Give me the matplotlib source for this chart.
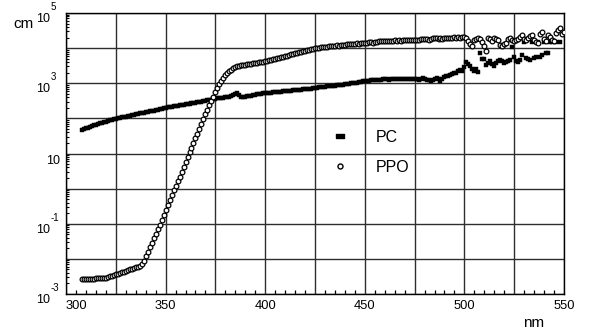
import numpy as np
import matplotlib
matplotlib.use("Agg")
import matplotlib.pyplot as plt
from matplotlib.lines import Line2D
from matplotlib.ticker import FixedLocator, LogLocator, NullFormatter

plt.rcParams['font.family'] = ['Liberation Sans', 'DejaVu Sans']

# ---------------- data ----------------
wavelength_nm = np.arange(308, 551)  # 1 nm sampling, 308 .. 550 nm

# log10 of attenuation length (cm) for PC (filled squares)
pc_log10 = [
    1.68, 1.70, 1.72, 1.74, 1.76, 1.78, 1.80, 1.82, 1.84, 1.86,   # 308-317
    1.88, 1.89, 1.91, 1.93, 1.94, 1.96, 1.98, 1.99, 2.00, 2.01,   # 318-327
    2.03, 2.04, 2.05, 2.07, 2.08, 2.09, 2.10, 2.12, 2.13, 2.14,   # 328-337
    2.15, 2.16, 2.18, 2.19, 2.20, 2.21, 2.22, 2.24, 2.25, 2.26,   # 338-347
    2.27, 2.29, 2.30, 2.31, 2.32, 2.33, 2.34, 2.35, 2.36, 2.37,   # 348-357
    2.38, 2.39, 2.40, 2.41, 2.42, 2.43, 2.44, 2.45, 2.46, 2.47,   # 358-367
    2.48, 2.49, 2.50, 2.51, 2.52, 2.53, 2.55, 2.56, 2.57, 2.58,   # 368-377
    2.59, 2.59, 2.60, 2.61, 2.62, 2.64, 2.66, 2.70, 2.71, 2.66,   # 378-387
    2.62, 2.60, 2.62, 2.63, 2.64, 2.65, 2.66, 2.67, 2.68, 2.69,   # 388-397
    2.70, 2.71, 2.72, 2.72, 2.73, 2.73, 2.74, 2.74, 2.75, 2.76,   # 398-407
    2.76, 2.77, 2.77, 2.78, 2.79, 2.79, 2.80, 2.80, 2.81, 2.82,   # 408-417
    2.82, 2.83, 2.84, 2.84, 2.85, 2.85, 2.86, 2.86, 2.87, 2.88,   # 418-427
    2.88, 2.89, 2.90, 2.91, 2.91, 2.92, 2.93, 2.93, 2.94, 2.95,   # 428-437
    2.96, 2.96, 2.97, 2.98, 2.99, 3.00, 3.00, 3.01, 3.02, 3.03,   # 438-447
    3.04, 3.05, 3.06, 3.06, 3.07, 3.08, 3.08, 3.09, 3.10, 3.10,   # 448-457
    3.10, 3.11, 3.11, 3.11, 3.10, 3.11, 3.11, 3.12, 3.11, 3.12,   # 458-467
    3.12, 3.11, 3.12, 3.12, 3.11, 3.12, 3.13, 3.12, 3.11, 3.10,   # 468-477
    3.12, 3.14, 3.13, 3.10, 3.08, 3.07, 3.10, 3.13, 3.15, 3.11,   # 478-487
    3.07, 3.12, 3.18, 3.22, 3.20, 3.24, 3.26, 3.28, 3.30, 3.34,   # 488-497
    3.38, 3.36, 3.45, 3.61, 3.56, 3.48, 3.40, 3.36, 3.41, 3.33,   # 498-507
    3.86, 3.70, 3.68, 3.52, 3.58, 3.62, 3.55, 3.50, 3.57, 3.62,   # 508-517
    3.67, 3.64, 3.57, 3.60, 3.63, 3.67, 4.04, 3.75, 3.62, 3.60,   # 518-527
    3.66, 3.81, 4.17, 3.72, 3.70, 3.67, 4.17, 3.72, 3.75, 4.17,   # 528-537
    3.76, 3.80, 4.17, 3.85, 3.87, 4.17, 4.17, np.nan, 4.17, np.nan,  # 538-547
    4.17, np.nan, np.nan,                                          # 548-550
]

# log10 of attenuation length (cm) for PPO (open circles)
ppo_log10 = [
    -2.58, -2.57, -2.57, -2.56, -2.56, -2.56, -2.56, -2.55, -2.55, -2.55,  # 308-317
    -2.55, -2.54, -2.54, -2.52, -2.50, -2.48, -2.46, -2.44, -2.42, -2.40,  # 318-327
    -2.38, -2.36, -2.34, -2.32, -2.30, -2.28, -2.26, -2.24, -2.22, -2.19,  # 328-337
    -2.14, -2.05, -1.93, -1.80, -1.67, -1.54, -1.41, -1.28, -1.15, -1.03,  # 338-347
    -0.89, -0.75, -0.61, -0.47, -0.33, -0.19, -0.05, 0.08, 0.21, 0.34,     # 348-357
    0.48, 0.62, 0.76, 0.90, 1.04, 1.17, 1.30, 1.43, 1.56, 1.70,           # 358-367
    1.84, 1.98, 2.12, 2.25, 2.38, 2.50, 2.62, 2.74, 2.86, 2.97,           # 368-377
    3.07, 3.16, 3.23, 3.29, 3.34, 3.38, 3.42, 3.45, 3.48, 3.50,           # 378-387
    3.51, 3.52, 3.53, 3.54, 3.55, 3.56, 3.57, 3.58, 3.59, 3.60,           # 388-397
    3.60, 3.61, 3.62, 3.63, 3.65, 3.66, 3.68, 3.69, 3.71, 3.72,           # 398-407
    3.74, 3.75, 3.77, 3.79, 3.80, 3.82, 3.83, 3.85, 3.86, 3.88,           # 408-417
    3.89, 3.91, 3.92, 3.94, 3.95, 3.97, 3.98, 3.99, 4.00, 4.01,           # 418-427
    4.02, 4.03, 4.03, 4.04, 4.05, 4.06, 4.06, 4.07, 4.08, 4.06,           # 428-437
    4.09, 4.09, 4.10, 4.11, 4.11, 4.12, 4.12, 4.13, 4.14, 4.13,           # 438-447
    4.15, 4.15, 4.16, 4.16, 4.17, 4.17, 4.15, 4.18, 4.18, 4.19,           # 448-457
    4.19, 4.20, 4.20, 4.19, 4.21, 4.20, 4.21, 4.22, 4.21, 4.22,           # 458-467
    4.20, 4.22, 4.23, 4.22, 4.23, 4.22, 4.24, 4.23, 4.23, 4.24,           # 468-477
    4.25, 4.27, 4.26, 4.25, 4.24, 4.26, 4.28, 4.30, 4.28, 4.27,           # 478-487
    4.28, 4.27, 4.29, 4.28, 4.30, 4.28, 4.29, 4.31, 4.30, 4.32,           # 488-497
    4.30, 4.33, 4.31, 4.28, 4.20, 4.12, 4.05, 4.22, 4.27, 4.29,           # 498-507
    4.26, 4.18, 4.05, 3.92, 4.30, 4.25, 4.20, 4.28, 4.26, 4.23,           # 508-517
    4.10, 4.06, 4.12, 4.16, 4.25, 4.29, 4.22, 4.19, 4.22, 4.25,           # 518-527
    4.33, 4.38, 4.26, 4.23, 4.28, 4.34, 4.37, 4.22, 4.17, 4.14,           # 528-537
    4.40, 4.46, 4.25, 4.20, 4.37, 4.33, 4.24, 4.20, 4.42, 4.51,           # 538-547
    4.56, 4.40, 4.45,                                                      # 548-550
]

series_names = ['PC', 'PPO']

x_label_values = [300, 350, 400, 450, 500, 550]
x_label_texts = ['300', '350', '400', '450', '500', '550']
y_label_values = [1e-3, 1e-1, 1e1, 1e3, 1e5]
y_label_bases = ['10', '10', '10', '10', '10']
y_label_exponents = ['-3', '-1', '', '3', '5']
y_unit = 'cm'
x_unit = 'nm'

# ---------------- figure ----------------
W, H = 593, 335
fig = plt.figure(figsize=(W / 100, H / 100), dpi=100)
ax = fig.add_axes([66 / W, (H - 294) / H, (564 - 66) / W, (294 - 13) / H])

pc = 10.0 ** np.array(pc_log10, dtype=float)
ppo = 10.0 ** np.array(ppo_log10, dtype=float)

ax.plot(wavelength_nm, pc, ls='none', marker='s', ms=2.7, mfc='black',
        mec='black', mew=0.3, zorder=3, clip_on=True)
ax.plot(wavelength_nm, ppo, ls='none', marker='o', ms=3.4, mfc='white',
        mec='black', mew=0.9, zorder=4, clip_on=True)

ax.set_yscale('log')
ax.set_xlim(300, 550)
ax.set_ylim(1e-3, 1e5)

# x ticks: grid every 25 nm, labels every 50 nm, minor ticks every 5 nm
ax.set_xticks(np.arange(300, 551, 25))
xlabels = []
for v in np.arange(300, 551, 25):
    xlabels.append(x_label_texts[x_label_values.index(v)] if v in x_label_values else '')
ax.set_xticklabels(xlabels, fontsize=9.3)
ax.set_xticks(np.arange(300, 551, 5), minor=True)
ax.tick_params(axis='x', which='major', length=0, pad=4.5)
ax.tick_params(axis='x', which='minor', direction='in', length=2.6, width=0.9,
               bottom=True, top=False)
first = ax.get_xticklabels()[0]
first.set_horizontalalignment('left')

# y ticks: grid every decade, minor log ticks inside on left
ax.yaxis.set_major_locator(LogLocator(base=10, numticks=20))
ax.yaxis.set_minor_locator(LogLocator(base=10, subs=np.arange(2, 10), numticks=20))
ax.yaxis.set_minor_formatter(NullFormatter())
ax.set_yticklabels([])
ax.tick_params(axis='y', which='major', length=0)
ax.tick_params(axis='y', which='minor', direction='in', length=2.4, width=0.8,
               left=True, right=False)
ax.set_ylim(1e-3, 1e5)

ax.grid(True, which='major', color='#2e2e2e', lw=1.0)
ax.set_axisbelow(True)
for s in ax.spines.values():
    s.set_color('black')
    s.set_linewidth(1.0)

# y labels: "10" with raised exponent
for val, base, ex in zip(y_label_values, y_label_bases, y_label_exponents):
    if ex:
        ax.annotate(base, xy=(0, val), xycoords=('axes fraction', 'data'),
                    xytext=(-16, -6), textcoords='offset pixels',
                    ha='right', va='center', fontsize=9, annotation_clip=False)
        ax.annotate(ex, xy=(0, val), xycoords=('axes fraction', 'data'),
                    xytext=(-15, 6), textcoords='offset pixels',
                    ha='left', va='center', fontsize=7, annotation_clip=False)
    else:
        ax.annotate(base, xy=(0, val), xycoords=('axes fraction', 'data'),
                    xytext=(-6, -7), textcoords='offset pixels',
                    ha='right', va='center', fontsize=9, annotation_clip=False)

fig.text(24 / W, 1 - 24 / H, y_unit, ha='center', va='center', fontsize=11)
fig.text(534 / W, 1 - 323 / H, x_unit, ha='center', va='center', fontsize=11)

rect = [(-1, -0.55), (1, -0.55), (1, 0.55), (-1, 0.55), (-1, -0.55)]
handles = [
    Line2D([], [], ls='none', marker=rect, ms=5.5, mfc='black', mec='black'),
    Line2D([], [], ls='none', marker='o', ms=3.6, mfc='white', mec='black', mew=1.0),
]
ax.legend(handles, series_names, loc='upper left', bbox_to_anchor=(0.535, 0.585),
          frameon=False, fontsize=11.5, handlelength=1.0, handletextpad=1.7,
          labelspacing=0.95, borderpad=0, borderaxespad=0)

fig.savefig('out.png', dpi=100)
